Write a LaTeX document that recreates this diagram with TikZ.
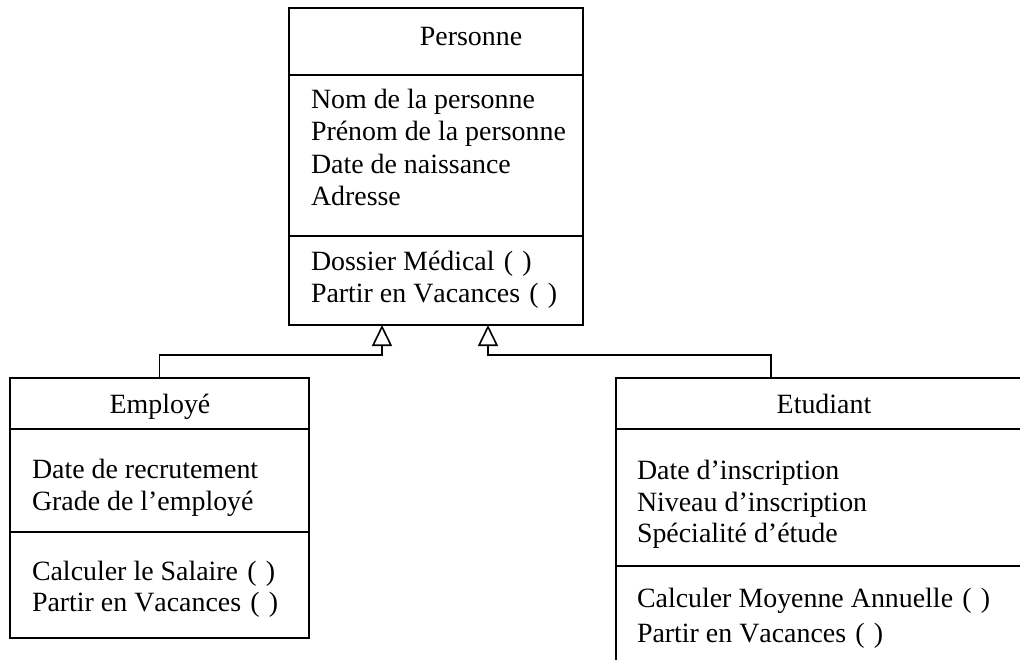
\documentclass[tikz,border=0pt]{standalone}
\usepackage{fontspec}
\setmainfont[Kerning=Off]{Liberation Serif}
\usetikzlibrary{arrows.meta}
% empty argument list of an operation, with the wide spacing of the class sheet
\newcommand\noargs{\hspace{0.33em}(\hspace{0.33em})}
\begin{document}
\begin{tikzpicture}[x=1pt,y=-1pt,
  every node/.style={inner sep=0pt,outer sep=0pt},
  classbox/.style={draw,line width=1.6pt,anchor=north west},
  lbl/.style={anchor=base west,font=\fontsize{27.9}{33}\selectfont},
  ttl/.style={anchor=base,font=\fontsize{27.9}{33}\selectfont},
  divider/.style={line width=1.6pt},
  inherit/.style={line width=1.6pt,-{Triangle[open,length=21pt,width=20pt,line width=1.6pt]}}]
\clip (0,0) rectangle (1020,659);
\fill[white] (0,0) rectangle (1020,659);

% Personne
\node[classbox,minimum width=294pt,minimum height=317pt] (pers) at (289,8) {};
\draw[divider] (pers.west |- 0,75) -- (pers.east |- 0,75);
\draw[divider] (pers.west |- 0,236) -- (pers.east |- 0,236);
\node[ttl] (persT) at (471,45) {Personne};
\node[lbl] (p1) at (311,108) {Nom de la personne};
\node[lbl] (p2) at (311,140.5) {Prénom de la personne};
\node[lbl] (p3) at (311,173) {Date de naissance};
\node[lbl] (p4) at (311,205.5) {Adresse};
\node[lbl] (p5) at (311,270) {Dossier Médical\noargs};
\node[lbl] (p6) at (311,302) {Partir en Vacances\noargs};

% Employé
\node[classbox,minimum width=299pt,minimum height=260pt] (emp) at (10,378) {};
\draw[divider] (emp.west |- 0,429) -- (emp.east |- 0,429);
\draw[divider] (emp.west |- 0,532) -- (emp.east |- 0,532);
\node[ttl] (empT) at (160,413) {Employé};
\node[lbl] (e1) at (32,478) {Date de recrutement};
\node[lbl] (e2) at (32,510) {Grade de l’employé};
\node[lbl] (e3) at (32,580) {Calculer le Salaire\noargs};
\node[lbl] (e4) at (32,611) {Partir en Vacances\noargs};

% Etudiant
\node[classbox,minimum width=416pt,minimum height=320pt] (etu) at (616,378) {};
\draw[divider] (etu.west |- 0,429) -- (etu.east |- 0,429);
\draw[divider] (etu.west |- 0,566) -- (etu.east |- 0,566);
\node[ttl] (etuT) at (824,413) {Etudiant};
\node[lbl] (s1) at (637,479) {Date d’inscription};
\node[lbl] (s2) at (637,511) {Niveau d’inscription};
\node[lbl] (s3) at (637,542) {Spécialité d’étude};
\node[lbl] (s4) at (637,607) {Calculer Moyenne Annuelle\noargs};
\node[lbl] (s5) at (637,642) {Partir en Vacances\noargs};

% Generalisation links
\coordinate (j1) at (382,355);
\coordinate (j2) at (488,355);
\draw[inherit] (emp.north) |- (j1) -- (j1 |- pers.south);
\draw[inherit] (etu.north -| 771,0) |- (j2) -- (j2 |- pers.south);
\end{tikzpicture}
\end{document}
